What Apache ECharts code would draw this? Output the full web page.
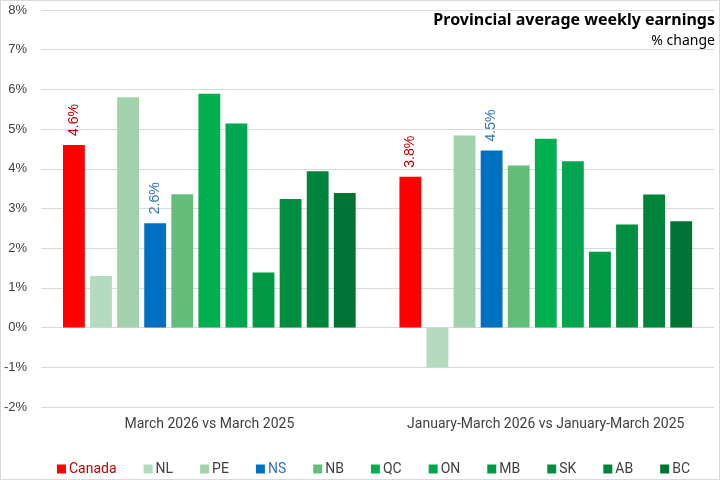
<!DOCTYPE html>
<html><head><meta charset="utf-8">
<script src="https://cdn.jsdelivr.net/npm/echarts@6/dist/echarts.min.js"></script>
<style>html,body{margin:0;padding:0;background:#fff}#c{width:720px;height:480px;box-sizing:border-box;border:1px solid #d9d9d9}</style>
</head><body><div id="c"></div>
<script>
const categories = ['March 2026 vs March 2025', 'January-March 2026 vs January-March 2025'];
const seriesNames = ['Canada','NL','PE','NS','NB','QC','ON','MB','SK','AB','BC'];
const Canada = [4.6, 3.8];
const NL = [1.3, -1.0];
const PE = [5.8, 4.84];
const NS = [2.63, 4.46];
const NB = [3.36, 4.08];
const QC = [5.89, 4.76];
const ON = [5.14, 4.19];
const MB = [1.39, 1.91];
const SK = [3.24, 2.6];
const AB = [3.94, 3.35];
const BC = [3.39, 2.68];
const values = [Canada, NL, PE, NS, NB, QC, ON, MB, SK, AB, BC];
const yTicks = ['-2%','-1%','0%','1%','2%','3%','4%','5%','6%','7%','8%'];

const colors = ['#FF0000','#B5DBBE','#A2D1AB','#0070C0','#63BE7B','#00B050','#00A650','#009A46','#008E40','#00843C','#007434'];
const labelColors = {Canada:'#C00000', NS:'#2E75B6'};
const font = "Roboto, sans-serif";

const chart = echarts.init(document.getElementById('c'));
chart.setOption({
  animation: false,
  title: [{
    text: 'Provincial average weekly earnings',
    right: 4, top: 11, padding: 0,
    textStyle: {fontFamily: "'Noto Sans', sans-serif", fontWeight: 'bold', fontSize: 16, color: '#000'}
  }, {
    text: '% change',
    right: 4, top: 33, padding: 0,
    textStyle: {fontFamily: "'Noto Sans', sans-serif", fontWeight: 'normal', fontSize: 14, color: '#000'}
  }],
  legend: {
    left: 51, top: 456,
    itemWidth: 9, itemHeight: 9, itemGap: 27,
    icon: 'rect',
    textStyle: {fontFamily: font, fontSize: 14, color: '#404040', padding: [0,0,0,-2]},
    data: seriesNames.map(n => labelColors[n] ? {name: n, textStyle: {color: labelColors[n]}} : {name: n})
  },
  grid: {left: 40, right: 5, top: 9, bottom: 72},
  xAxis: {
    type: 'category', data: categories,
    axisLine: {show: false}, axisTick: {show: false},
    axisLabel: {interval: 0, fontFamily: font, fontSize: 14, color: '#404040', margin: 10},
    position: 'bottom'
  },
  yAxis: {
    type: 'value', min: -2, max: 8, interval: 1,
    axisLine: {show: false}, axisTick: {show: false},
    splitLine: {lineStyle: {color: '#d9d9d9', width: 1}},
    axisLabel: {fontFamily: "'Liberation Sans', Arial, sans-serif", fontSize: 13, color: '#404040', margin: 14, formatter: v => v + '%'}
  },
  series: seriesNames.map((n, i) => ({
    name: n, type: 'bar', data: values[i],
    barGap: '24%', barCategoryGap: '13%',
    itemStyle: {color: colors[i]},
    label: labelColors[n] ? {
      show: true, position: 'top', rotate: 90, distance: 9,
      align: 'left', verticalAlign: 'middle',
      formatter: p => p.value.toFixed(1) + '%',
      color: labelColors[n], fontFamily: "'Liberation Sans', Arial, sans-serif", fontSize: 14
    } : {show: false}
  }))
});
</script></body></html>
